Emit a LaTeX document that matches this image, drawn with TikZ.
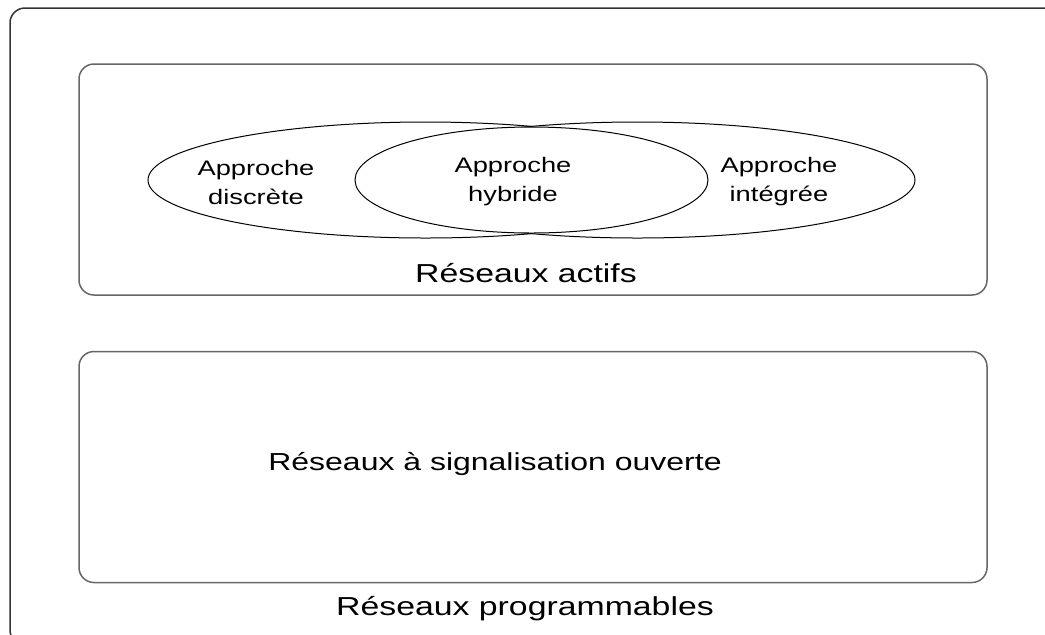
\documentclass[tikz,border=0pt]{standalone}
\usepackage{fontspec}
\usetikzlibrary{shapes.geometric,positioning}
\newfontfamily\helv[FakeStretch=1.3]{Liberation Sans}

\begin{document}
\begin{tikzpicture}[x=0.5pt,y=-0.5pt,
   bloc/.style={draw=black!60,line width=0.75pt,rounded corners=7.5pt,
      minimum width=454pt,minimum height=115.5pt,inner sep=0pt},
   approche/.style={draw=black,fill=white,line width=0.5pt,ellipse,inner sep=0pt},
   petit/.style={align=center,font=\helv\fontsize{10.5}{14.5}\selectfont},
   grand/.style={font=\helv\fontsize{13}{15}\selectfont}]
   \useasboundingbox (0,0) rectangle (1045,634);
   \clip (0,0) rectangle (1045,634);
   \draw[black!80,line width=0.75pt,rounded corners=7.5pt] (10,8) rectangle (1070,645);
   \node[bloc] (actifs) at (533,179.5) {};
   \node[bloc] (ouverts) at (533,467) {};
   % les trois approches
   \node[approche,minimum width=277.6pt,minimum height=58pt] (discrete) at (425.6,180) {};
   \node[approche,minimum width=277.6pt,minimum height=58pt] (integree) at (637.4,180) {};
   \node[approche,minimum width=176.5pt,minimum height=53pt] (hybride) at (531.5,180) {};
   \node[petit] (t_discrete) at (256,182) {Approche\\discrète};
   \node[petit] (t_hybride) at (513,182) {Approche\\hybride};
   \node[petit] (t_integree) at (779,182) {Approche\\intégrée};
   \node[grand] (t_actifs) at (526,273) {Réseaux actifs};
   \node[grand,font=\helv\fontsize{12.3}{15}\selectfont] (t_ouverts) at (495,464) {Réseaux à signalisation ouverte};
   \node[grand] (t_prog) at (525,609) {Réseaux programmables};
\end{tikzpicture}
\end{document}
